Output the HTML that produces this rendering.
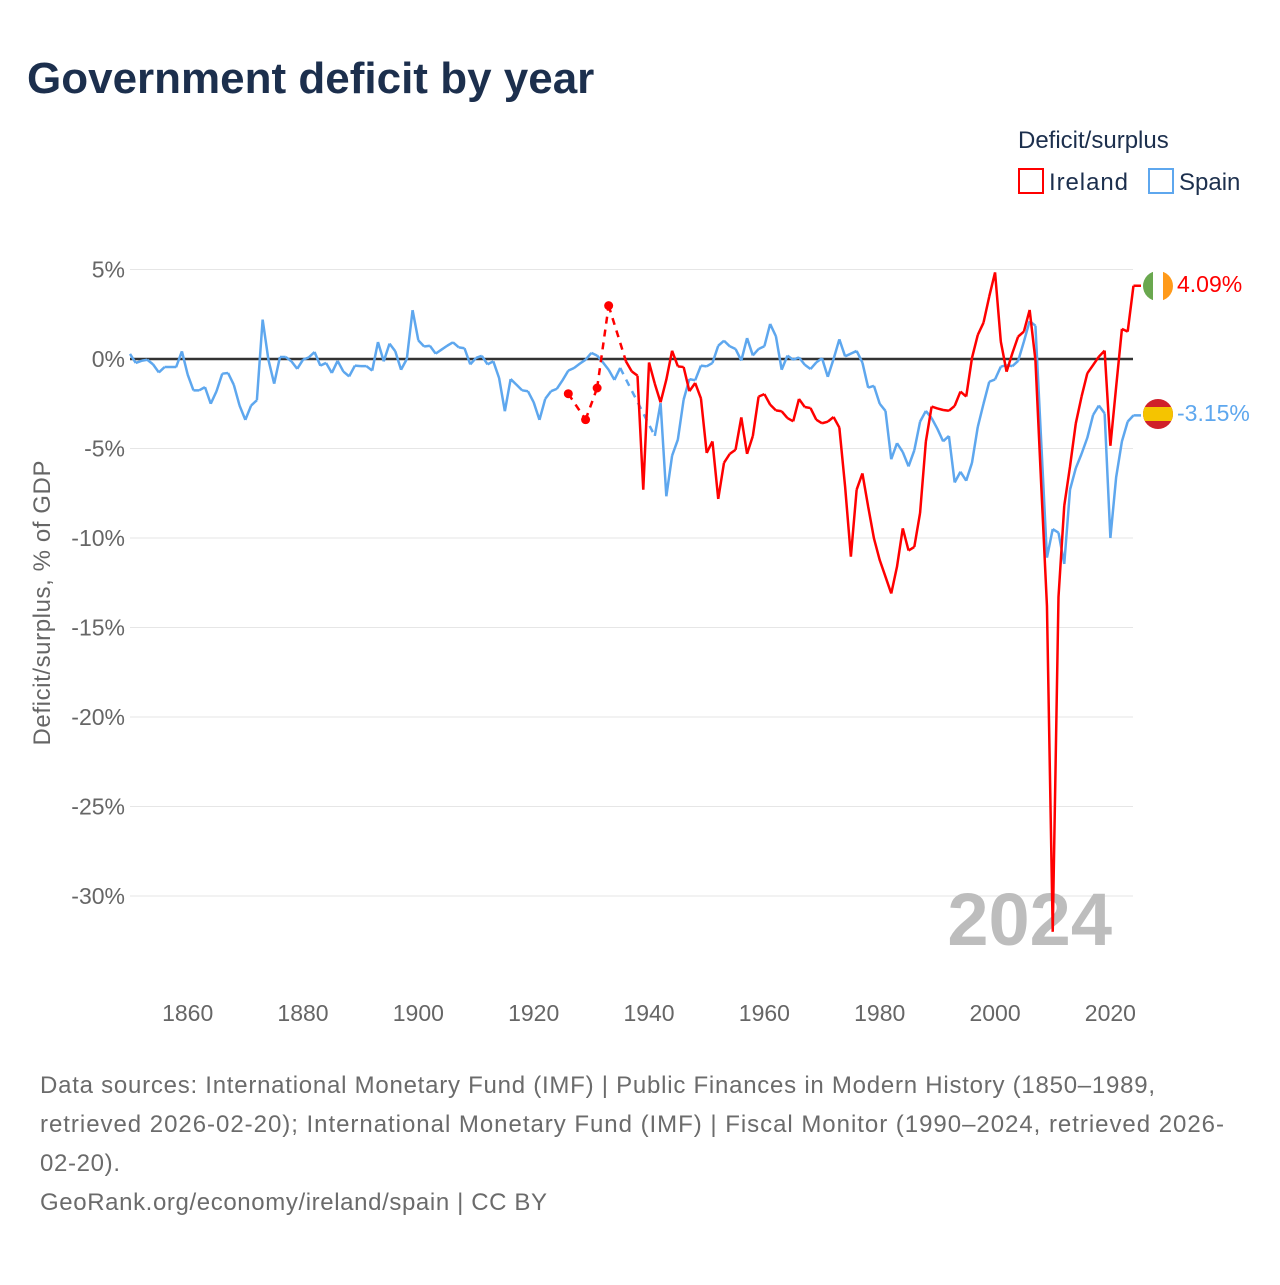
<!DOCTYPE html>
<html><head><meta charset="utf-8"><style>
body{margin:0;background:#fff;font-family:"Liberation Sans",sans-serif;}
svg text{font-family:"Liberation Sans",sans-serif;}
</style></head><body>
<svg id="chart" width="1280" height="1280" viewBox="0 0 1280 1280" xmlns="http://www.w3.org/2000/svg">
<text x="27" y="93" font-size="44" font-weight="bold" fill="#1c2f4d">Government deficit by year</text>
<text x="1018" y="148" font-size="24" fill="#1c2f4d">Deficit/surplus</text>
<g><rect x="1019" y="169" width="24" height="24" fill="none" stroke="#ff0000" stroke-width="2"/><text x="1049" y="190" font-size="24" fill="#1c2f4d" textLength="79">Ireland</text></g>
<g><rect x="1149" y="169" width="24" height="24" fill="none" stroke="#5ea7ee" stroke-width="2"/><text x="1179" y="190" font-size="24" fill="#1c2f4d">Spain</text></g>
<g id="grid"></g>
<text x="1112" y="945" font-size="74" font-weight="bold" fill="#bdbdbd" text-anchor="end">2024</text>
<g id="series"></g>
<text transform="translate(50,603) rotate(-90)" font-size="24" fill="#666" text-anchor="middle" textLength="285">Deficit/surplus, % of GDP</text>
<g>
<clipPath id="cie"><circle cx="1158" cy="286" r="15"/></clipPath>
<g clip-path="url(#cie)"><rect x="1143" y="271" width="10" height="30" fill="#6aa84f"/><rect x="1153" y="271" width="10" height="30" fill="#fff"/><rect x="1163" y="271" width="10" height="30" fill="#ff9a1a"/></g></g>
<g>
<clipPath id="ces"><circle cx="1158" cy="414" r="15"/></clipPath>
<g clip-path="url(#ces)"><rect x="1143" y="399" width="30" height="30" fill="#d0202a"/><rect x="1143" y="407" width="30" height="14" fill="#f5c400"/></g></g>
<text x="1177" y="292" font-size="23" fill="#ff0000">4.09%</text>
<text x="1177" y="421" font-size="23" fill="#5ea7ee">-3.15%</text>
<g font-size="24" fill="#6b6b6b">
<text x="40" y="1093" textLength="1115">Data sources: International Monetary Fund (IMF) | Public Finances in Modern History (1850–1989,</text>
<text x="40" y="1132" textLength="1184">retrieved 2026-02-20); International Monetary Fund (IMF) | Fiscal Monitor (1990–2024, retrieved 2026-</text>
<text x="40" y="1171" textLength="80">02-20).</text>
<text x="40" y="1210" textLength="507">GeoRank.org/economy/ireland/spain | CC BY</text>
</g>
</svg>
<script>
const yTicks=[5,0,-5,-10,-15,-20,-25,-30];
const xTicks=[1860,1880,1900,1920,1940,1960,1980,2000,2020];
const spainStart=1850;
const spainValues=[0.28,-0.22,-0.1,-0.04,-0.3,-0.75,-0.45,-0.45,-0.45,0.43,
-0.87,-1.75,-1.75,-1.57,-2.5,-1.8,-0.82,-0.78,-1.44,-2.6,
-3.4,-2.6,-2.3,2.2,-0.04,-1.38,0.11,0.11,-0.13,-0.55,
-0.04,0.09,0.39,-0.37,-0.22,-0.78,-0.1,-0.7,-0.97,-0.37,
-0.4,-0.4,-0.65,0.95,-0.13,0.86,0.43,-0.6,0.0,2.73,
1.04,0.7,0.74,0.3,0.52,0.74,0.93,0.65,0.6,-0.3,
0.06,0.18,-0.3,-0.13,-1.06,-2.92,-1.12,-1.43,-1.75,-1.8,
-2.42,-3.4,-2.23,-1.8,-1.67,-1.19,-0.65,-0.5,-0.26,-0.04,
0.34,0.19,-0.19,-0.6,-1.17,-0.5,null,null,null,null,
null,-4.3,-2.46,-7.67,-5.4,-4.5,-2.27,-1.12,-1.19,-0.37,
-0.41,-0.22,0.74,1.02,0.71,0.56,-0.09,1.17,0.2,0.56,
0.71,1.96,1.27,-0.6,0.19,-0.04,0.09,-0.32,-0.56,-0.19,
0.04,-1.0,0.0,1.1,0.15,0.3,0.45,-0.2,-1.6,-1.5,
-2.5,-2.9,-5.6,-4.7,-5.2,-6.0,-5.1,-3.5,-2.9,-3.3,
-3.9,-4.6,-4.3,-6.9,-6.3,-6.8,-5.8,-3.8,-2.5,-1.27,
-1.14,-0.43,-0.34,-0.4,-0.11,0.97,2.12,1.86,-4.6,-11.1,
-9.5,-9.7,-11.45,-7.3,-6.1,-5.3,-4.4,-3.13,-2.6,-3.04,
-10.0,-6.6,-4.6,-3.5,-3.15];
const irelandStart=1926;
const irelandValues=[-1.94,null,null,-3.39,null,-1.62,null,2.98,null,null,
-0.13,-0.69,-0.93,-7.3,-0.19,-1.38,-2.42,-1.15,0.46,-0.41,
-0.45,-1.8,-1.34,-2.2,-5.25,-4.6,-7.82,-5.8,-5.3,-5.07,
-3.26,-5.3,-4.3,-2.1,-1.96,-2.55,-2.87,-2.92,-3.3,-3.48,
-2.23,-2.68,-2.74,-3.39,-3.59,-3.5,-3.24,-3.83,-7.13,-11.04,
-7.3,-6.39,-8.25,-10.02,-11.23,-12.16,-13.1,-11.6,-9.46,-10.7,
-10.5,-8.6,-4.62,-2.66,-2.76,-2.85,-2.89,-2.62,-1.82,-2.1,
0.06,1.34,2.03,3.5,4.84,0.97,-0.71,0.32,1.25,1.53,
2.74,-0.06,-7.0,-13.8,-32.0,-13.3,-8.2,-6.0,-3.6,-2.1,
-0.8,-0.34,0.13,0.47,-4.85,-1.55,1.68,1.53,4.09];
const NS='http://www.w3.org/2000/svg';
const X=yr=>130+(yr-1850)*5.767;
const Y=v=>359-v*17.9;
const grid=document.getElementById('grid');
const ser=document.getElementById('series');
function mk(tag,attrs,parent){const e=document.createElementNS(NS,tag);for(const k in attrs)e.setAttribute(k,attrs[k]);parent.appendChild(e);return e;}
yTicks.forEach(t=>{
  const l=mk('line',{x1:130,x2:1133,y1:Y(t),y2:Y(t),stroke:t===0?'#333':'#e6e6e6','stroke-width':t===0?2.5:1},grid);
  
  
  const tx=mk('text',{x:125,y:Y(t)+8,'font-size':23,fill:'#666','text-anchor':'end'},grid);
  tx.textContent=t+'%';
  
  
});
xTicks.forEach(t=>{
  const tx=mk('text',{x:X(t),y:1021,'font-size':23,fill:'#666','text-anchor':'middle'},grid);
  tx.textContent=t;
  
  
});
function draw(start,vals,color,name){
  const pts=vals.map((v,i)=>v===null?null:[X(start+i),Y(v)]);
  let solid='',dash='';let prev=null,prevIdx=-1;
  pts.forEach((p,i)=>{
    if(!p)return;
    if(prev){
      if(prevIdx===i-1){solid+=`M${prev[0]},${prev[1]}L${p[0]},${p[1]}`;}
      else{dash+=`M${prev[0]},${prev[1]}L${p[0]},${p[1]}`;}
    }
    prev=p;prevIdx=i;
  });
  const d=mk('path',{d:dash,fill:'none',stroke:color,'stroke-width':2.5,'stroke-dasharray':'7,6'},ser);
  
  
  const last=pts[pts.length-1];
  solid+=`M${last[0]},${last[1]}L1141,${last[1]}`;
  const s=mk('path',{d:solid,fill:'none',stroke:color,'stroke-width':2.5,'stroke-linejoin':'round'},ser);
  
  
  pts.forEach((p,i)=>{
    if(!p)return;
    const a=pts[i-1],b=pts[i+1];
    if(!a&&!b){
      const c=mk('circle',{cx:p[0],cy:p[1],r:4.5,fill:color},ser);
      
      
    }
  });
}
draw(spainStart,spainValues,'#5ea7ee','spain');
draw(irelandStart,irelandValues,'#ff0000','ireland');
</script>
</body></html>
